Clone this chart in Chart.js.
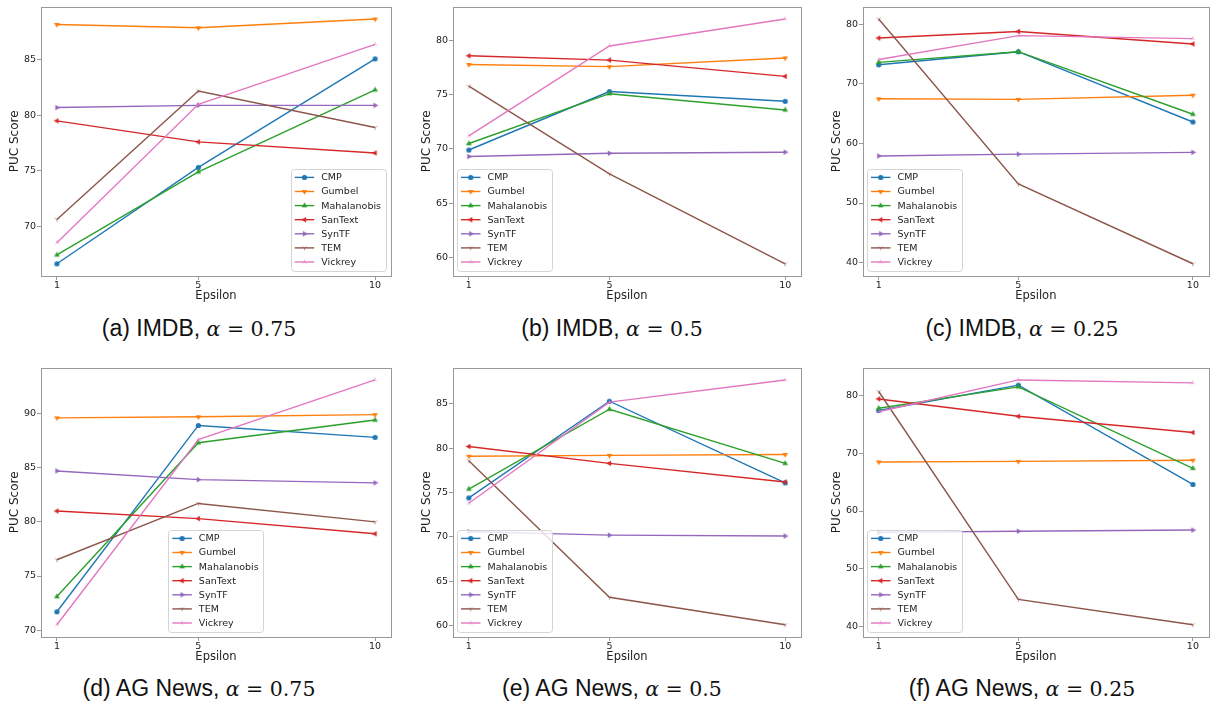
<!DOCTYPE html>
<html lang="en">
<head>
  <meta charset="UTF-8" />
  <title>PUC Score vs Epsilon</title>
  <script src="https://cdn.jsdelivr.net/npm/chart.js"></script>
  <style>
    body {
      margin: 0;
      background: #fff;
      width: 1214px;
      height: 706px;
      position: relative;
      overflow: hidden;
    }
    .panel { position: absolute; width: 404px; height: 305px; }
    .caption {
      position: absolute;
      font-family: "Liberation Sans", Arial, sans-serif;
      font-size: 23px;
      line-height: 26px;
      color: #111;
      white-space: nowrap;
      transform: translateX(-50%);
    }
    .caption .m { font-family: "DejaVu Serif", serif; font-size: 20.5px; }
  </style>
</head>
<body>

  <div id="wrap"></div>

  <script>
    // x values and series names
    const epsilons = [1, 5, 10];
    const methods = ['CMP', 'Gumbel', 'Mahalanobis', 'SanText', 'SynTF', 'TEM', 'Vickrey'];

    // one row per method, one column per epsilon
    const imdb075 = [
      [66.6, 75.3, 85.1],
      [88.2, 87.9, 88.7],
      [67.4, 74.9, 82.3],
      [79.5, 77.6, 76.6],
      [80.7, 80.9, 80.9],
      [70.6, 82.2, 78.9],
      [68.5, 81.0, 86.4]
    ];
    const imdb050 = [
      [69.9, 75.3, 74.4],
      [77.8, 77.6, 78.4],
      [70.5, 75.1, 73.6],
      [78.6, 78.2, 76.7],
      [69.3, 69.6, 69.7],
      [75.8, 67.7, 59.4],
      [71.2, 79.5, 82.0]
    ];
    const imdb025 = [
      [73.2, 75.4, 63.6],
      [67.5, 67.4, 68.1],
      [73.6, 75.4, 64.9],
      [77.7, 78.8, 76.7],
      [57.9, 58.2, 58.5],
      [80.9, 53.2, 39.8],
      [74.1, 78.1, 77.6]
    ];
    const agnews075 = [
      [71.7, 88.9, 87.8],
      [89.6, 89.7, 89.9],
      [73.1, 87.3, 89.4],
      [81.0, 80.3, 78.9],
      [84.7, 83.9, 83.6],
      [76.5, 81.7, 80.0],
      [70.5, 87.6, 93.1]
    ];
    const agnews050 = [
      [74.4, 85.3, 76.1],
      [79.1, 79.2, 79.3],
      [75.4, 84.4, 78.3],
      [80.2, 78.3, 76.2],
      [70.6, 70.2, 70.1],
      [78.6, 63.2, 60.1],
      [73.8, 85.2, 87.7]
    ];
    const agnews025 = [
      [77.4, 81.8, 64.6],
      [68.5, 68.6, 68.8],
      [77.8, 81.5, 67.4],
      [79.4, 76.4, 73.6],
      [56.3, 56.5, 56.7],
      [80.7, 44.7, 40.3],
      [77.2, 82.7, 82.2]
    ];

    const panelValues = [imdb075, imdb050, imdb025, agnews075, agnews050, agnews025];
    const datasetNames = ['IMDB', 'IMDB', 'IMDB', 'AG News', 'AG News', 'AG News'];
    const alphaLabels = ['0.75', '0.5', '0.25', '0.75', '0.5', '0.25'];
    const yTickSteps = [5, 5, 10, 5, 5, 10];

    // styling / layout
    const colors = ['#1f77b4', '#ff7f0e', '#2ca02c', '#d62728', '#9467bd', '#8c564b', '#e377c2'];
    const markerKinds = ['o', 'v', '^', '<', '>', '1', '2'];
    const legendLocs = ['lower right', 'lower left', 'lower left', 'lower center', 'lower left', 'lower left'];
    const colLeft = [0, 405, 810];
    const rowTop = [0, 361];
    const plotLeft = [41, 48, 53];
    const plotRight = [391, 396, 403];
    const captionX = [199, 612, 1022];
    const captionY = [315, 675];
    const TEXT = '#222';
    const SPINE = '#999';

    function makeMarker(kind, color) {
      const c = document.createElement('canvas');
      c.width = 9; c.height = 9;
      const g = c.getContext('2d');
      const cx = 4.5, cy = 4.5, r = 2.6;
      g.fillStyle = color;
      g.strokeStyle = color;
      if (kind === 'o') {
        g.beginPath();
        g.arc(cx, cy, r, 0, Math.PI * 2);
        g.fill();
      } else if ('v^<>'.includes(kind)) {
        const rot = { '^': 0, '>': 90, 'v': 180, '<': 270 }[kind] * Math.PI / 180;
        g.beginPath();
        for (let k = 0; k < 3; k++) {
          const a = rot + k * 2 * Math.PI / 3;
          const px = cx + Math.sin(a) * r * 1.25, py = cy - Math.cos(a) * r * 1.25;
          if (k) g.lineTo(px, py); else g.moveTo(px, py);
        }
        g.closePath();
        g.fill();
      } else {
        // '1' = tri_down, '2' = tri_up: thin, small
        const rot = kind === '2' ? 0 : Math.PI;
        g.lineWidth = 0.7;
        g.globalAlpha = 0.8;
        g.beginPath();
        for (let k = 0; k < 3; k++) {
          const a = rot + k * 2 * Math.PI / 3;
          g.moveTo(cx, cy);
          g.lineTo(cx + Math.sin(a) * r * 0.95, cy - Math.cos(a) * r * 0.95);
        }
        g.stroke();
      }
      return c;
    }
    const markerImgs = markerKinds.map((k, i) => makeMarker(k, colors[i]));

    const framePlugin = {
      id: 'frame',
      afterDatasetsDraw(chart) {
        const { ctx, chartArea: a } = chart;
        ctx.save();
        ctx.strokeStyle = SPINE;
        ctx.lineWidth = 1;
        ctx.strokeRect(Math.round(a.left) + 0.5, Math.round(a.top) + 0.5,
          Math.round(a.right - a.left), Math.round(a.bottom - a.top));
        ctx.restore();
      }
    };

    const legendPlugin = {
      id: 'mplLegend',
      afterDraw(chart, args, opts) {
        const { ctx, chartArea: a } = chart;
        ctx.save();
        ctx.font = '9.5px "DejaVu Sans"';
        const textW = Math.max(...methods.map(m => ctx.measureText(m).width));
        const rowH = 14.1, textX = 30.5;
        const w = textX + textW + 5;
        const h = 8.3 + rowH * (methods.length - 1) + 9;
        let x;
        if (opts.loc === 'lower right') x = a.right - 5 - w;
        else if (opts.loc === 'lower center') x = (a.left + a.right) / 2 - w / 2;
        else x = a.left + 4;
        const y = a.bottom - 5 - h;

        ctx.beginPath();
        ctx.roundRect(Math.round(x) + 0.5, Math.round(y) + 0.5, Math.round(w), Math.round(h), 3);
        ctx.fillStyle = 'rgba(255,255,255,0.8)';
        ctx.fill();
        ctx.strokeStyle = '#d4d4d4';
        ctx.lineWidth = 1;
        ctx.stroke();

        methods.forEach((m, i) => {
          const ry = y + 8.3 + i * rowH;
          ctx.beginPath();
          ctx.moveTo(x + 4, ry);
          ctx.lineTo(x + 23.5, ry);
          ctx.strokeStyle = colors[i];
          ctx.lineWidth = 1.4;
          ctx.stroke();
          const img = markerImgs[i];
          ctx.drawImage(img, x + 13.75 - img.width / 2, ry - img.height / 2);
          ctx.fillStyle = TEXT;
          ctx.textBaseline = 'middle';
          ctx.fillText(m, x + textX, ry + 0.5);
        });
        ctx.restore();
      }
    };

    const wrap = document.getElementById('wrap');

    panelValues.forEach((values, idx) => {
      const col = idx % 3, row = Math.floor(idx / 3);

      const div = document.createElement('div');
      div.className = 'panel';
      div.style.left = colLeft[col] + 'px';
      div.style.top = rowTop[row] + 'px';
      const canvas = document.createElement('canvas');
      canvas.width = 404;
      canvas.height = 305;
      div.appendChild(canvas);
      wrap.appendChild(div);

      const cap = document.createElement('div');
      cap.className = 'caption';
      cap.style.left = captionX[col] + 'px';
      cap.style.top = captionY[row] + 'px';
      cap.innerHTML = '(' + 'abcdef'[idx] + ') ' + datasetNames[idx] +
        ', <span class="m"><i>α</i> = ' + alphaLabels[idx] + '</span>';
      wrap.appendChild(cap);

      // matplotlib-like 5% margins
      const all = values.flat();
      const lo = Math.min(...all), hi = Math.max(...all);
      const yPad = (hi - lo) * 0.05;
      const xPad = (epsilons[epsilons.length - 1] - epsilons[0]) * 0.05;
      const step = yTickSteps[idx];
      const left = plotLeft[col];

      new Chart(canvas, {
        type: 'line',
        data: {
          datasets: methods.map((m, i) => ({
            label: m,
            data: epsilons.map((e, j) => ({ x: e, y: values[i][j] })),
            borderColor: colors[i],
            backgroundColor: colors[i],
            borderWidth: 1.4,
            pointStyle: markerImgs[i],
            pointRadius: 3,
            tension: 0,
            fill: false,
            order: methods.length - i
          }))
        },
        options: {
          responsive: false,
          animation: false,
          events: [],
          layout: { padding: { top: 4, left: 0, right: 404 - plotRight[col], bottom: 0 } },
          plugins: {
            legend: { display: false },
            tooltip: { enabled: false },
            mplLegend: { loc: legendLocs[idx] }
          },
          scales: {
            x: {
              type: 'linear',
              min: epsilons[0] - xPad,
              max: epsilons[epsilons.length - 1] + xPad,
              afterBuildTicks: s => { s.ticks = epsilons.map(v => ({ value: v })); },
              afterFit: s => { s.height = 29; },
              grid: { drawOnChartArea: false, drawTicks: true, tickLength: 4, color: SPINE },
              border: { display: false },
              ticks: { font: { family: 'DejaVu Sans', size: 9.5 }, color: TEXT, padding: 0, maxRotation: 0 },
              title: {
                display: true, text: 'Epsilon', color: TEXT,
                font: { family: 'DejaVu Sans', size: 11.5 }, padding: { top: 0, bottom: 2 }
              }
            },
            y: {
              min: lo - yPad,
              max: hi + yPad,
              afterBuildTicks: s => {
                const t = [];
                for (let v = Math.ceil(s.min / step) * step; v <= s.max; v += step) t.push({ value: v });
                s.ticks = t;
              },
              afterFit: s => { s.width = left; },
              grid: { drawOnChartArea: false, drawTicks: true, tickLength: 4, color: SPINE },
              border: { display: false },
              ticks: { font: { family: 'DejaVu Sans', size: 9.5 }, color: TEXT, padding: 1 },
              title: {
                display: true, text: 'PUC Score', color: TEXT,
                font: { family: 'DejaVu Sans', size: 12 }, padding: { top: left - 26 - 7.2, bottom: 0 }
              }
            }
          }
        },
        plugins: [framePlugin, legendPlugin]
      });
    });
  </script>
</body>
</html>
